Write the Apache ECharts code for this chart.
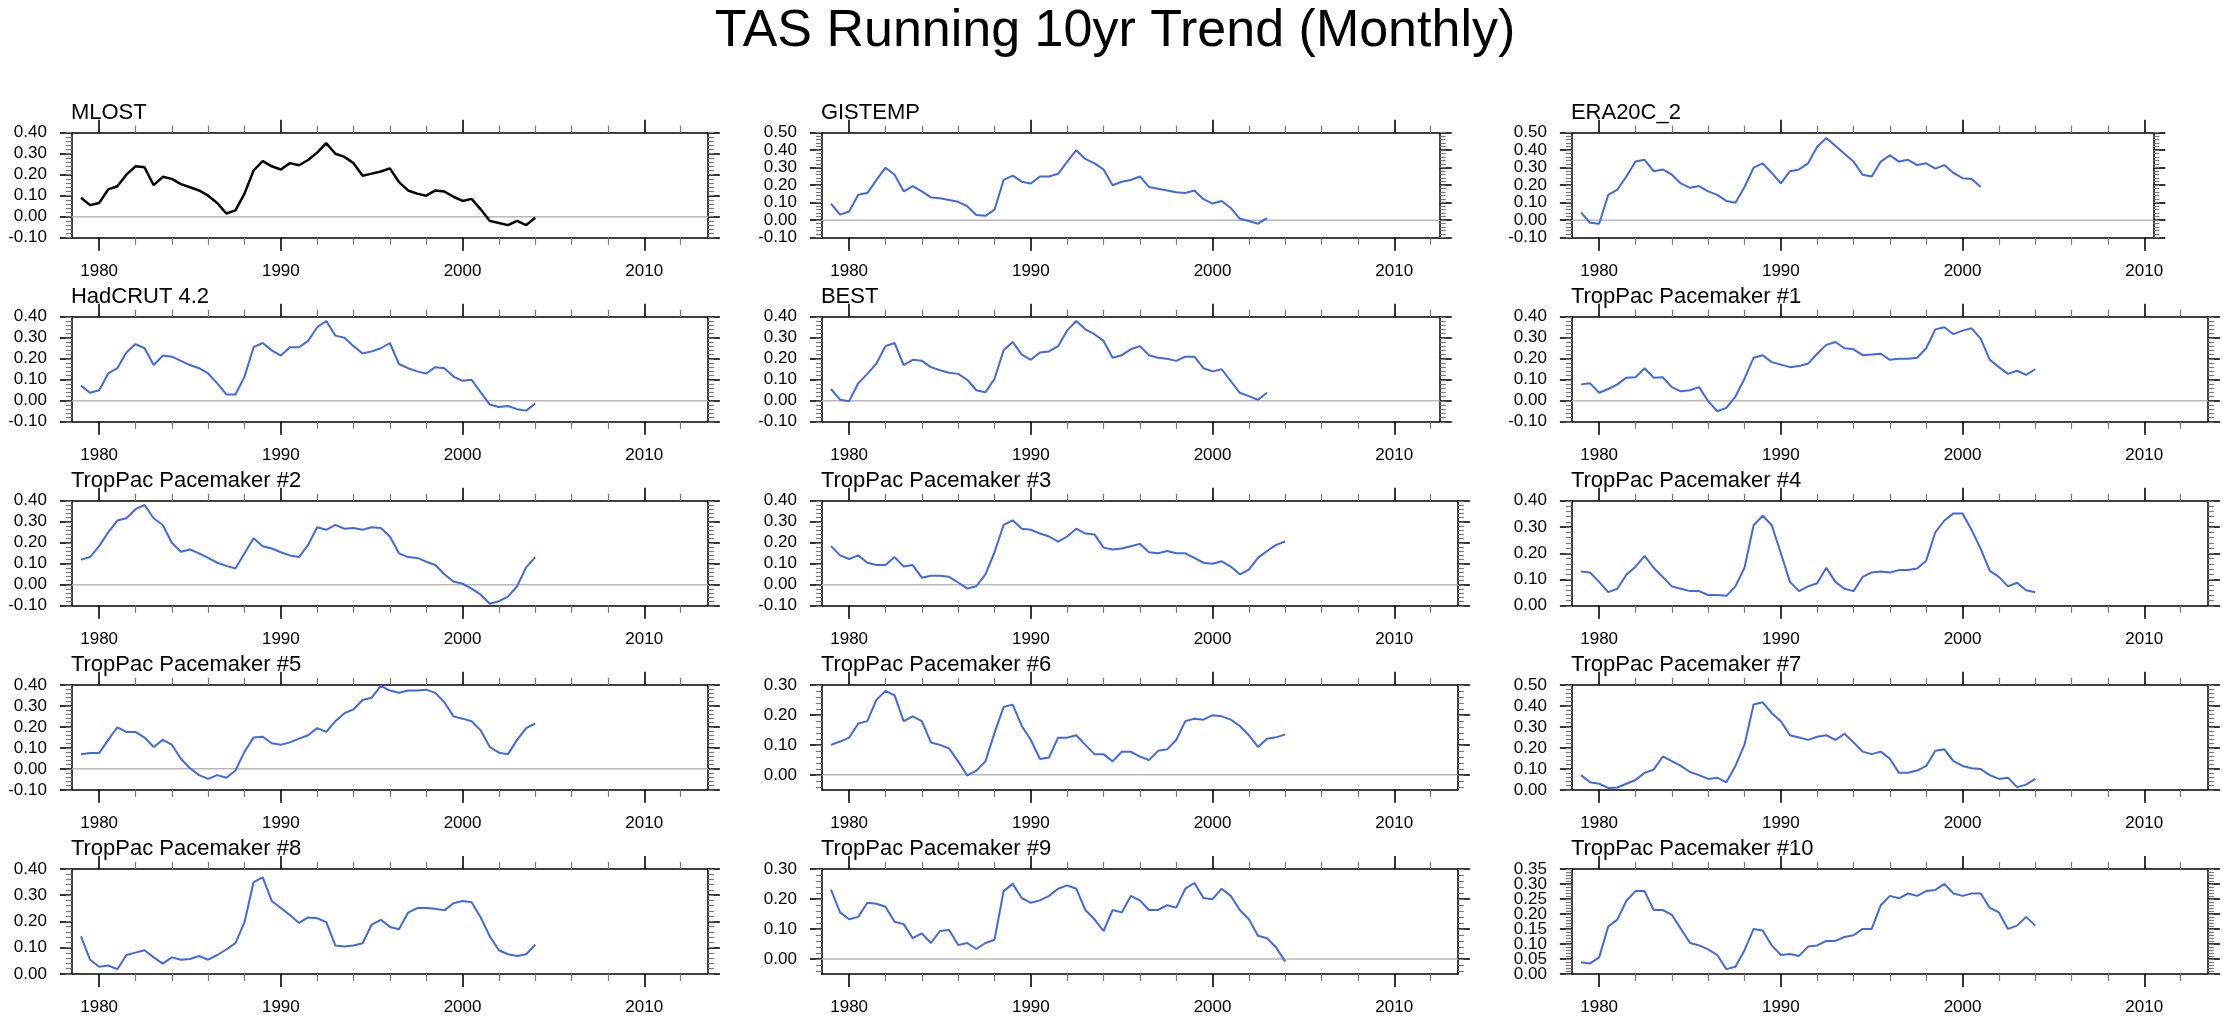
<!DOCTYPE html>
<html><head><meta charset="utf-8">
<script src="https://cdn.jsdelivr.net/npm/echarts@6/dist/echarts.min.js"></script>
<style>html,body{margin:0;padding:0;background:#fff}#c{width:2230px;height:1024px}</style>
</head><body><div id="c"></div>
<script>
// ---------------- data ----------------
const mainTitle = 'TAS Running 10yr Trend (Monthly)';
const panelNames = ['MLOST','GISTEMP','ERA20C_2','HadCRUT 4.2','BEST','TropPac Pacemaker #1',
  'TropPac Pacemaker #2','TropPac Pacemaker #3','TropPac Pacemaker #4','TropPac Pacemaker #5',
  'TropPac Pacemaker #6','TropPac Pacemaker #7','TropPac Pacemaker #8','TropPac Pacemaker #9','TropPac Pacemaker #10'];
const years = [1979,1979.5,1980,1980.5,1981,1981.5,1982,1982.5,1983,1983.5,1984,1984.5,1985,1985.5,1986,1986.5,
  1987,1987.5,1988,1988.5,1989,1989.5,1990,1990.5,1991,1991.5,1992,1992.5,1993,1993.5,1994,1994.5,1995,1995.5,
  1996,1996.5,1997,1997.5,1998,1998.5,1999,1999.5,2000,2000.5,2001,2001.5,2002,2002.5,2003,2003.5,2004];

const mlost = [0.09,0.055,0.065,0.13,0.145,0.20,0.24,0.235,0.15,0.19,0.18,0.155,0.14,0.125,0.10,0.065,0.015,0.03,0.11,0.22,0.265,0.24,0.225,0.255,0.245,0.27,0.305,0.35,0.30,0.285,0.255,0.195,0.205,0.215,0.23,0.165,0.125,0.11,0.10,0.125,0.12,0.095,0.075,0.085,0.035,-0.02,-0.03,-0.04,-0.02,-0.04,-0.005];
const gistemp = [0.094,0.032,0.05,0.145,0.155,0.23,0.30,0.26,0.165,0.195,0.165,0.13,0.125,0.115,0.105,0.08,0.03,0.025,0.06,0.23,0.255,0.22,0.21,0.25,0.25,0.265,0.335,0.40,0.35,0.325,0.29,0.20,0.22,0.23,0.25,0.19,0.18,0.17,0.16,0.155,0.17,0.12,0.095,0.11,0.07,0.008,-0.005,-0.02,0.012];
const era20c = [0.045,-0.015,-0.02,0.145,0.175,0.25,0.335,0.345,0.28,0.29,0.26,0.21,0.185,0.195,0.165,0.145,0.11,0.10,0.19,0.30,0.325,0.27,0.21,0.28,0.29,0.325,0.42,0.47,0.425,0.38,0.335,0.26,0.25,0.335,0.37,0.335,0.345,0.315,0.325,0.295,0.315,0.27,0.24,0.235,0.19];
const hadcrut = [0.072,0.038,0.05,0.13,0.155,0.23,0.27,0.25,0.17,0.215,0.21,0.19,0.17,0.155,0.13,0.083,0.03,0.03,0.115,0.255,0.275,0.24,0.215,0.255,0.255,0.285,0.35,0.38,0.31,0.30,0.26,0.225,0.235,0.25,0.275,0.175,0.155,0.14,0.13,0.16,0.155,0.115,0.095,0.10,0.04,-0.018,-0.03,-0.025,-0.04,-0.047,-0.013];
const best = [0.056,0.005,-0.002,0.083,0.128,0.177,0.26,0.275,0.17,0.195,0.19,0.16,0.145,0.133,0.128,0.10,0.05,0.04,0.105,0.24,0.28,0.22,0.195,0.23,0.235,0.26,0.335,0.38,0.34,0.317,0.285,0.205,0.217,0.245,0.26,0.217,0.205,0.20,0.19,0.21,0.21,0.155,0.14,0.15,0.094,0.038,0.022,0.005,0.038];
const tp1 = [0.078,0.083,0.038,0.056,0.078,0.11,0.112,0.155,0.11,0.112,0.065,0.045,0.05,0.065,-0.002,-0.05,-0.034,0.02,0.105,0.205,0.217,0.184,0.172,0.16,0.165,0.177,0.224,0.266,0.28,0.25,0.245,0.217,0.22,0.224,0.195,0.20,0.20,0.205,0.25,0.34,0.35,0.317,0.334,0.345,0.296,0.195,0.16,0.128,0.143,0.123,0.15];
const tp2 = [0.12,0.132,0.184,0.25,0.306,0.317,0.36,0.38,0.317,0.285,0.20,0.157,0.168,0.15,0.128,0.105,0.09,0.078,0.15,0.222,0.184,0.173,0.155,0.14,0.132,0.19,0.274,0.262,0.285,0.267,0.27,0.262,0.274,0.27,0.23,0.15,0.132,0.128,0.11,0.094,0.05,0.016,0.005,-0.018,-0.047,-0.09,-0.078,-0.056,-0.007,0.083,0.132];
const tp3 = [0.184,0.14,0.123,0.14,0.105,0.094,0.094,0.132,0.087,0.094,0.034,0.043,0.043,0.038,0.011,-0.018,-0.007,0.05,0.155,0.285,0.307,0.267,0.262,0.244,0.23,0.206,0.23,0.267,0.244,0.24,0.177,0.168,0.173,0.184,0.195,0.155,0.15,0.161,0.15,0.15,0.128,0.105,0.10,0.112,0.087,0.05,0.072,0.128,0.161,0.19,0.206];
const tp4 = [0.131,0.127,0.091,0.052,0.065,0.118,0.149,0.19,0.145,0.11,0.074,0.065,0.056,0.056,0.041,0.041,0.038,0.074,0.145,0.307,0.343,0.307,0.20,0.091,0.056,0.074,0.086,0.145,0.091,0.065,0.056,0.11,0.127,0.131,0.127,0.136,0.136,0.142,0.172,0.28,0.325,0.352,0.352,0.289,0.217,0.133,0.11,0.074,0.088,0.059,0.052];
const tp5 = [0.07,0.075,0.075,0.138,0.198,0.176,0.176,0.149,0.104,0.138,0.115,0.048,0.003,-0.03,-0.048,-0.03,-0.042,-0.008,0.082,0.149,0.153,0.122,0.115,0.126,0.144,0.16,0.194,0.176,0.227,0.265,0.283,0.328,0.339,0.395,0.373,0.362,0.373,0.373,0.377,0.362,0.317,0.25,0.239,0.227,0.183,0.104,0.077,0.07,0.138,0.194,0.216];
const tp6 = [0.10,0.111,0.124,0.171,0.179,0.25,0.28,0.265,0.179,0.195,0.179,0.108,0.10,0.088,0.045,-0.002,0.014,0.045,0.14,0.226,0.234,0.163,0.116,0.053,0.058,0.124,0.124,0.132,0.10,0.069,0.069,0.045,0.077,0.077,0.061,0.049,0.08,0.085,0.116,0.179,0.187,0.184,0.199,0.195,0.184,0.163,0.132,0.093,0.12,0.125,0.135];
const tp7 = [0.07,0.036,0.029,0.009,0.011,0.029,0.047,0.081,0.096,0.159,0.137,0.114,0.085,0.07,0.052,0.058,0.036,0.114,0.215,0.406,0.417,0.365,0.327,0.26,0.249,0.238,0.253,0.26,0.238,0.267,0.226,0.182,0.17,0.182,0.148,0.081,0.081,0.092,0.114,0.186,0.193,0.137,0.114,0.103,0.099,0.07,0.052,0.058,0.013,0.025,0.052];
const tp8 = [0.143,0.054,0.027,0.032,0.018,0.072,0.081,0.09,0.063,0.039,0.063,0.054,0.057,0.068,0.054,0.072,0.093,0.117,0.197,0.35,0.368,0.278,0.251,0.224,0.194,0.215,0.212,0.197,0.108,0.104,0.108,0.117,0.188,0.206,0.179,0.17,0.233,0.251,0.251,0.248,0.242,0.269,0.278,0.273,0.215,0.143,0.09,0.075,0.068,0.075,0.111];
const tp9 = [0.231,0.155,0.132,0.14,0.187,0.184,0.174,0.124,0.116,0.069,0.085,0.053,0.093,0.096,0.046,0.053,0.033,0.053,0.064,0.226,0.25,0.203,0.187,0.195,0.21,0.234,0.245,0.234,0.163,0.132,0.093,0.163,0.155,0.21,0.195,0.163,0.163,0.179,0.171,0.234,0.253,0.203,0.199,0.234,0.21,0.163,0.132,0.077,0.069,0.038,-0.009];
const tp10 = [0.039,0.035,0.055,0.158,0.181,0.244,0.276,0.276,0.213,0.213,0.197,0.15,0.103,0.095,0.082,0.063,0.016,0.024,0.079,0.15,0.145,0.095,0.063,0.066,0.06,0.091,0.095,0.11,0.11,0.123,0.129,0.15,0.15,0.229,0.26,0.252,0.268,0.26,0.276,0.28,0.30,0.268,0.26,0.268,0.268,0.22,0.205,0.15,0.161,0.19,0.161];
const seriesValues = [mlost,gistemp,era20c,hadcrut,best,tp1,tp2,tp3,tp4,tp5,tp6,tp7,tp8,tp9,tp10];

// axis ranges and tick labels
const xStart = 1978.5;
const xEnds = [2013.5,2012.5,2010.5,2013.5,2012.5,2013.5,2013.5,2013.5,2013.5,2013.5,2013.5,2013.5,2013.5,2013.5,2013.5];
const xTickLabels = [1980,1990,2000,2010];
const xMinorTicks = [1982,1984,1986,1988,1992,1994,1996,1998,2002,2004,2006,2008,2012];
const yMins = [-0.1,-0.1,-0.1,-0.1,-0.1,-0.1,-0.1,-0.1,0,-0.1,-0.05,0,0,-0.05,0];
const yMaxs = [0.4,0.5,0.5,0.4,0.4,0.4,0.4,0.4,0.4,0.4,0.3,0.5,0.4,0.3,0.35];
const yTick4 = [-0.1,0,0.1,0.2,0.3,0.4];
const yTick5 = [-0.1,0,0.1,0.2,0.3,0.4,0.5];
const yTick04 = [0,0.1,0.2,0.3,0.4];
const yTick03 = [0,0.1,0.2,0.3];
const yTick05 = [0,0.1,0.2,0.3,0.4,0.5];
const yTick035 = [0,0.05,0.1,0.15,0.2,0.25,0.3,0.35];
const yTickLabels = [yTick4,yTick5,yTick5,yTick4,yTick4,yTick4,yTick4,yTick4,yTick04,yTick4,yTick03,yTick05,yTick04,yTick03,yTick035];

// ---------------- layout ----------------
const FONT = 'Liberation Sans, Arial, Helvetica, sans-serif';
const colLeft = [71.9, 821.9, 1571.9];
const rowTop0 = 132.7, rowStep = 184.05, plotH = 105, pxPerYear = 18.17;
const BLUE = '#4169E1';

const grids = [], xAxes = [], yAxes = [], series = [], titles = [];
titles.push({text: mainTitle, left: 'center', top: 6, padding: 0,
  textStyle: {fontSize: 52, fontWeight: 'normal', color: '#000', fontFamily: FONT}});

function minorVals(i) {
  const t = yTickLabels[i];
  const step = (t[1] - t[0]) / 5;
  const out = [];
  const k0 = Math.ceil(yMins[i] / step - 1e-6), k1 = Math.floor(yMaxs[i] / step + 1e-6);
  for (let k = k0; k <= k1; k++) out.push(Math.round(k * step * 10000) / 10000);
  return out;
}

const yLabelStyle = {show: true, margin: 25, fontSize: 17, color: '#000', fontFamily: FONT,
  showMinLabel: true, showMaxLabel: true, hideOverlap: false,
  formatter: v => (Math.abs(v) < 1e-9 ? 0 : v).toFixed(2)};

for (let i = 0; i < 15; i++) {
  const r = Math.floor(i / 3), c = i % 3;
  const left = colLeft[c], top = rowTop0 + r * rowStep;
  const width = (xEnds[i] - xStart) * pxPerYear;
  grids.push({left: left, top: top, width: width, height: plotH, containLabel: false, outerBoundsMode: 'none'});
  titles.push({text: panelNames[i], left: left - 1, top: top - 31, padding: 0,
    textStyle: {fontSize: 22, fontWeight: 'normal', color: '#000', fontFamily: FONT}});

  const lineS = {color: '#000', width: 1.5};
  const majS = {color: '#000', width: 1.6};
  const minS = {color: '#777', width: 1.2};
  const xBase = {gridIndex: i, type: 'value', min: xStart, max: xEnds[i], splitLine: {show: false}};
  xAxes.push(Object.assign({}, xBase, {position: 'bottom',
    axisLine: {show: true, onZero: false, lineStyle: lineS},
    axisTick: {show: true, inside: false, length: 13, customValues: xTickLabels, lineStyle: majS},
    axisLabel: {show: true, customValues: xTickLabels, margin: 25, fontSize: 17, color: '#000', fontFamily: FONT,
      showMinLabel: true, showMaxLabel: true, hideOverlap: false,
      formatter: v => String(Math.round(v))}}));
  xAxes.push(Object.assign({}, xBase, {position: 'bottom',
    axisLine: {show: false, onZero: false},
    axisTick: {show: true, inside: false, length: 7, customValues: xMinorTicks, lineStyle: minS},
    axisLabel: {show: false}}));
  xAxes.push(Object.assign({}, xBase, {position: 'top',
    axisLine: {show: true, onZero: false, lineStyle: lineS},
    axisTick: {show: true, inside: false, length: 13, customValues: xTickLabels, lineStyle: majS},
    axisLabel: {show: false}}));
  xAxes.push(Object.assign({}, xBase, {position: 'top',
    axisLine: {show: false, onZero: false},
    axisTick: {show: true, inside: false, length: 7, customValues: xMinorTicks, lineStyle: minS},
    axisLabel: {show: false}}));

  const yBase = {gridIndex: i, type: 'value', min: yMins[i], max: yMaxs[i], splitLine: {show: false}};
  const mv = minorVals(i);
  const labA = yTickLabels[i].filter((_, k) => k % 2 === 0);
  const labB = yTickLabels[i].filter((_, k) => k % 2 === 1);
  yAxes.push(Object.assign({}, yBase, {position: 'left',
    axisLine: {show: true, onZero: false, lineStyle: lineS},
    axisTick: {show: true, inside: false, length: 12, customValues: yTickLabels[i], lineStyle: majS},
    axisLabel: Object.assign({}, yLabelStyle, {customValues: labA})}));
  yAxes.push(Object.assign({}, yBase, {position: 'left',
    axisLine: {show: false, onZero: false},
    axisTick: {show: true, inside: false, length: 6, customValues: mv, lineStyle: minS},
    axisLabel: Object.assign({}, yLabelStyle, {customValues: labB})}));
  yAxes.push(Object.assign({}, yBase, {position: 'right',
    axisLine: {show: true, onZero: false, lineStyle: lineS},
    axisTick: {show: true, inside: false, length: 12, customValues: yTickLabels[i], lineStyle: majS},
    axisLabel: {show: false}}));
  yAxes.push(Object.assign({}, yBase, {position: 'right',
    axisLine: {show: false, onZero: false},
    axisTick: {show: true, inside: false, length: 6, customValues: mv, lineStyle: minS},
    axisLabel: {show: false}}));

  if (yMins[i] < 0) {
    series.push({type: 'line', xAxisIndex: 4 * i, yAxisIndex: 4 * i, silent: true, showSymbol: false, z: 1,
      data: [[xStart, 0], [xEnds[i], 0]], lineStyle: {color: '#b8b8b8', width: 1.5}});
  }
  const vals = seriesValues[i];
  series.push({type: 'line', xAxisIndex: 4 * i, yAxisIndex: 4 * i, showSymbol: false, silent: true, z: 3,
    data: vals.map((v, k) => [years[k], v]),
    lineStyle: {color: i === 0 ? '#000' : BLUE, width: i === 0 ? 2.5 : 2}});
}

const chart = echarts.init(document.getElementById('c'), null, {renderer: 'canvas'});
chart.setOption({
  animation: false,
  backgroundColor: '#fff',
  title: titles,
  grid: grids,
  xAxis: xAxes,
  yAxis: yAxes,
  series: series
});
</script>
</body></html>
